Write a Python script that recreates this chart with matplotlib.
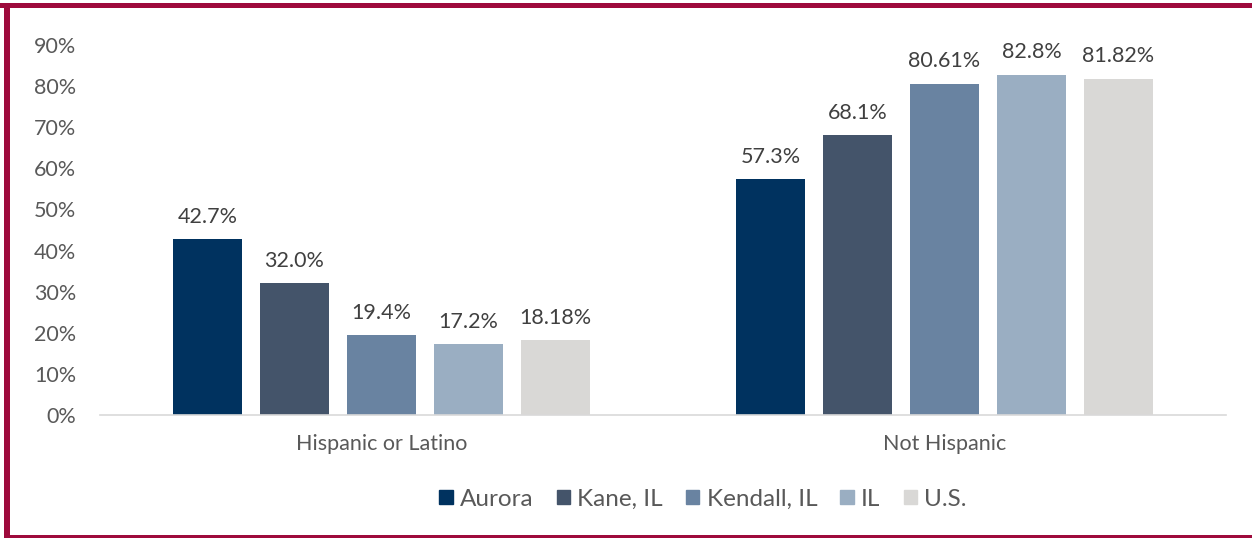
import matplotlib.pyplot as plt
import matplotlib.patches as mpatches
import numpy as np

plt.rcParams.update({"font.family": ["Lato", "DejaVu Sans"]})

categories = ["Hispanic or Latino", "Not Hispanic"]
series = ["Aurora", "Kane, IL", "Kendall, IL", "IL", "U.S."]
values = {
    "Aurora": [42.7, 57.3],
    "Kane, IL": [32.0, 68.1],
    "Kendall, IL": [19.4, 80.61],
    "IL": [17.2, 82.8],
    "U.S.": [18.18, 81.82],
}
labels = {
    "Aurora": ["42.7%", "57.3%"],
    "Kane, IL": ["32.0%", "68.1%"],
    "Kendall, IL": ["19.4%", "80.61%"],
    "IL": ["17.2%", "82.8%"],
    "U.S.": ["18.18%", "81.82%"],
}
colors = ["#00325F", "#44546A", "#6983A1", "#9AAEC2", "#D9D8D6"]
yticks = np.arange(0, 91, 10)

MAROON = "#9E0A3C"
FS = 15.5

fig = plt.figure(figsize=(12.52, 5.38), dpi=100)
ax = fig.add_axes([100 / 1252, 1 - 415 / 538, 1126 / 1252, 370 / 538])

x = np.arange(len(categories))
slot = 0.1545
width = 0.1226
for i, (name, col) in enumerate(zip(series, colors)):
    pos = x + (i - 2) * slot
    ax.bar(pos, values[name], width=width, color=col, label=name)
    for px, v, lab in zip(pos, values[name], labels[name]):
        ax.annotate(lab, (px, v), textcoords="offset points", xytext=(0, 9),
                    ha="center", va="bottom", fontsize=FS, color="#404040")

ax.set_xlim(-0.5, 1.5)
ax.set_ylim(0, 90)
ax.set_yticks(yticks)
ax.set_yticklabels([f"{t}%" for t in yticks])
ax.set_xticks(x)
ax.set_xticklabels(categories)
ax.tick_params(axis="both", length=0, labelsize=FS, colors="#595959")
ax.tick_params(axis="y", pad=17)
ax.tick_params(axis="x", pad=14)
for s in ["top", "right", "left"]:
    ax.spines[s].set_visible(False)
ax.spines["bottom"].set_color("#D9D9D9")
ax.spines["bottom"].set_linewidth(1.2)

handles = [mpatches.Patch(color=c, label=n) for n, c in zip(series, colors)]
fig.legend(handles=handles, loc="center", bbox_to_anchor=(703 / 1252, 1 - 499 / 538),
           ncol=5, frameon=False, fontsize=17.5, handlelength=0.55, handleheight=0.55,
           handletextpad=0.3, columnspacing=0.95, labelcolor="#595959")

# maroon frame around the chart
fig.add_artist(mpatches.Rectangle((0, 530 / 538), 1, 5 / 538, transform=fig.transFigure,
                                  color=MAROON, lw=0))
fig.add_artist(mpatches.Rectangle((4 / 1252, 0), 6 / 1252, 535 / 538, transform=fig.transFigure,
                                  color=MAROON, lw=0))
fig.add_artist(mpatches.Rectangle((4 / 1252, 0), 1, 3 / 538, transform=fig.transFigure,
                                  color=MAROON, lw=0))

fig.savefig("out.png", dpi=100)
